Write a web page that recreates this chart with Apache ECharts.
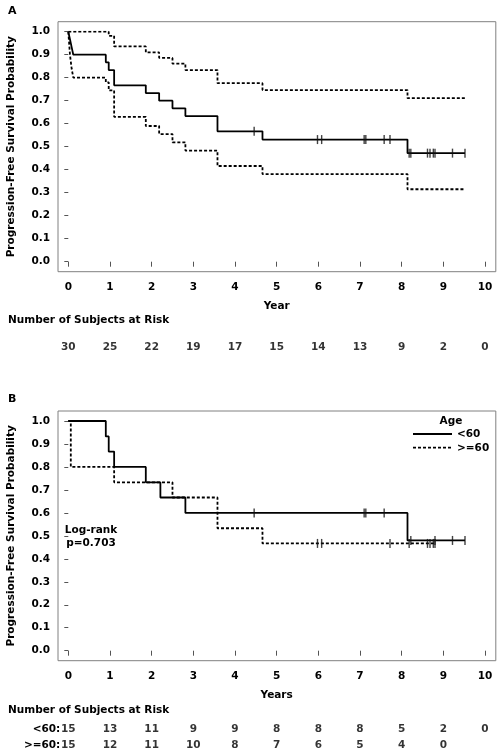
<!DOCTYPE html>
<html><head><meta charset="utf-8">
<script src="https://cdn.jsdelivr.net/npm/echarts@6/dist/echarts.min.js"></script>
<style>html,body{margin:0;padding:0;background:#fff}#c{width:503px;height:755px}</style>
</head><body><div id="c"></div>
<script>
// ---------- data ----------
const yearMin = 0, yearMax = 10, yearStep = 1;
const probMin = 0, probMax = 1, probStep = 0.1;

// Panel A: all subjects (KM + 95% CI)
const aTimes = [0, 0.04, 0.08, 0.12, 0.90, 0.97, 1.10, 1.86, 2.18, 2.50, 2.81, 3.58, 4.66, 8.14, 9.52];
const aSurv  = [1.0, 0.967, 0.933, 0.900, 0.867, 0.833, 0.767, 0.733, 0.700, 0.667, 0.633, 0.567, 0.531, 0.472, 0.472];
const aUpperTimes = [0, 0.97, 1.10, 1.86, 2.18, 2.50, 2.81, 3.58, 4.66, 8.14, 9.52];
const aUpper      = [1.0, 0.982, 0.936, 0.910, 0.886, 0.861, 0.833, 0.776, 0.746, 0.711, 0.711];
const aLowerTimes = [0, 0.04, 0.08, 0.12, 0.90, 0.97, 1.10, 1.86, 2.18, 2.50, 2.81, 3.58, 4.66, 8.14, 9.52];
const aLower      = [1.0, 0.90, 0.84, 0.80, 0.78, 0.745, 0.630, 0.590, 0.555, 0.519, 0.483, 0.416, 0.381, 0.315, 0.315];
const aCensor = [4.46, 5.98, 6.08, 7.10, 7.14, 7.58, 7.72, 8.18, 8.22, 8.62, 8.68, 8.76, 8.80, 9.22, 9.52];
const aRisk = [30, 25, 22, 19, 17, 15, 14, 13, 9, 2, 0];

// Panel B: by age group
const ageGroups = ['<60', '>=60'];
const bLtTimes = [0, 0.90, 0.97, 1.10, 1.86, 2.21, 2.81, 8.14, 9.52];
const bLtSurv  = [1.0, 0.933, 0.867, 0.800, 0.733, 0.667, 0.600, 0.480, 0.480];
const bLtCensor = [4.46, 7.10, 7.14, 7.58, 8.22, 8.80, 9.22, 9.52];
const bGeTimes = [0, 0.06, 1.10, 2.50, 3.58, 4.66, 8.80];
const bGeSurv  = [1.0, 0.800, 0.733, 0.667, 0.533, 0.467, 0.467];
const bGeCensor = [5.98, 6.08, 7.72, 8.18, 8.62, 8.68, 8.76, 8.80];
const bRiskLt = [15, 13, 11, 9, 9, 8, 8, 8, 5, 2, 0];
const bRiskGe = [15, 12, 11, 10, 8, 7, 6, 5, 4, 0];
const riskRowLabels = ['<60:', '>=60:'];
const logRankText = ['Log-rank', 'p=0.703'];

// ---------- helpers ----------
const FONT = 'DejaVu Sans';
const FS = 10.5;
const CSSFONT = 'bold ' + FS + 'px "DejaVu Sans"';
const pairs = (t, v) => t.map((x, i) => [x, v[i]]);
const stepVal = (t, v, x) => { let r = v[0]; for (let i = 0; i < t.length; i++) if (t[i] <= x) r = v[i]; return r; };
const censorPts = (c, t, v) => c.map(x => [x, stepVal(t, v, x)]);
const txt = {color: '#000', fontFamily: FONT, fontWeight: 'bold', fontSize: FS};

const dataL = 68.3, dataW = 416.7;
const A = {top: 31.7, h: 230}, B = {top: 421, h: 229.7};

function frameGrid(top, h) {
  return {left: 58, top: top - 10, width: dataW + 21.1, height: h + 20, show: true,
    borderColor: '#808080', borderWidth: 1, backgroundColor: 'transparent', outerBoundsMode: 'none'};
}
function dataGrid(top, h) { return {left: dataL, top: top, width: dataW, height: h, outerBoundsMode: 'none'}; }

function hiddenX(gi) { return {type: 'value', gridIndex: gi, min: yearMin, max: yearMax, show: false}; }
function hiddenY(gi) { return {type: 'value', gridIndex: gi, min: 0, max: 1, show: false}; }

function dataX(gi, name) {
  return {type: 'value', gridIndex: gi, min: yearMin, max: yearMax, interval: yearStep, offset: 10,
    name: name, nameLocation: 'middle', nameGap: 29,
    nameTextStyle: Object.assign({}, txt),
    axisLine: {show: false}, splitLine: {show: false},
    axisTick: {show: true, length: 5, lineStyle: {color: '#555', width: 1}},
    axisLabel: Object.assign({margin: 10, showMinLabel: true, showMaxLabel: true}, txt)};
}
function dataY(gi) {
  return {type: 'value', gridIndex: gi, min: probMin, max: probMax, interval: probStep, offset: 10.3,
    name: 'Progression-Free Survival Probability', nameLocation: 'middle', nameGap: 41,
    nameTextStyle: Object.assign({}, txt),
    axisLine: {show: false}, splitLine: {show: false},
    axisTick: {show: true, length: 4, lineStyle: {color: '#555', width: 1}},
    axisLabel: Object.assign({margin: 8, formatter: v => v.toFixed(1), showMinLabel: true, showMaxLabel: true}, txt)};
}

const solid = {color: '#000', width: 1.8, type: 'solid'};
const dashed = {color: '#000', width: 1.8, type: [3, 2]};
function kmLine(gi, t, v, ls, name) {
  return {type: 'line', name: name, xAxisIndex: gi, yAxisIndex: gi, step: 'end', symbol: 'none',
    data: pairs(t, v), lineStyle: ls, silent: true, z: 3};
}
function censor(gi, c, t, v) {
  return {type: 'scatter', xAxisIndex: gi, yAxisIndex: gi, symbol: 'rect', symbolSize: [1.4, 9],
    itemStyle: {color: '#111'}, data: censorPts(c, t, v), silent: true, z: 4};
}
function riskSeries(gi, counts, row) {
  return {type: 'scatter', xAxisIndex: gi, yAxisIndex: gi, symbolSize: 1,
    itemStyle: {color: 'transparent'}, silent: true,
    data: counts.map((n, i) => [i, row, n]),
    label: Object.assign({show: true, position: 'inside', formatter: p => String(p.value[2])}, txt)};
}

const option = {
  animation: false,
  backgroundColor: '#fff',
  grid: [
    frameGrid(A.top, A.h), dataGrid(A.top, A.h),
    {left: dataL, width: dataW, top: 340, height: 14, outerBoundsMode: 'none'},
    frameGrid(B.top, B.h), dataGrid(B.top, B.h),
    {left: dataL, width: dataW, top: 721.5, height: 31.4, outerBoundsMode: 'none'}
  ],
  xAxis: [
    hiddenX(0), dataX(1, 'Year'), hiddenX(2),
    hiddenX(3), dataX(4, 'Years'), hiddenX(5)
  ],
  yAxis: [
    hiddenY(0), dataY(1), {type: 'value', gridIndex: 2, min: -1, max: 1, show: false},
    hiddenY(3), dataY(4),
    {type: 'category', gridIndex: 5, data: riskRowLabels, inverse: true,
      axisLine: {show: false}, axisTick: {show: false}, splitLine: {show: false},
      axisLabel: Object.assign({margin: 8, align: 'right'}, txt)}
  ],
  series: [
    kmLine(1, aUpperTimes, aUpper, dashed, 'upper'),
    kmLine(1, aLowerTimes, aLower, dashed, 'lower'),
    kmLine(1, aTimes, aSurv, solid, 'all'),
    censor(1, aCensor, aTimes, aSurv),
    riskSeries(2, aRisk, 0),
    kmLine(4, bGeTimes, bGeSurv, dashed, ageGroups[1]),
    kmLine(4, bLtTimes, bLtSurv, solid, ageGroups[0]),
    censor(4, bGeCensor, bGeTimes, bGeSurv),
    censor(4, bLtCensor, bLtTimes, bLtSurv),
    riskSeries(5, bRiskLt, 0),
    riskSeries(5, bRiskGe, 1)
  ],
  graphic: [
    {type: 'text', x: 8, y: 11.5, style: {text: 'A', font: 'bold 11px "DejaVu Sans"', fill: '#000', verticalAlign: 'middle'}},
    {type: 'text', x: 8, y: 399.5, style: {text: 'B', font: 'bold 11px "DejaVu Sans"', fill: '#000', verticalAlign: 'middle'}},
    {type: 'text', x: 8, y: 320, style: {text: 'Number of Subjects at Risk', font: CSSFONT, fill: '#000', verticalAlign: 'middle'}},
    {type: 'text', x: 8, y: 710, style: {text: 'Number of Subjects at Risk', font: CSSFONT, fill: '#000', verticalAlign: 'middle'}},
    {type: 'text', x: 91, y: 530, style: {text: logRankText[0], font: CSSFONT, fill: '#000', align: 'center', verticalAlign: 'middle'}},
    {type: 'text', x: 91, y: 543.5, style: {text: logRankText[1], font: CSSFONT, fill: '#000', align: 'center', verticalAlign: 'middle'}},
    {type: 'text', x: 451, y: 421.7, style: {text: 'Age', font: CSSFONT, fill: '#000', align: 'center', verticalAlign: 'middle'}},
    {type: 'line', shape: {x1: 413, y1: 434, x2: 452, y2: 434}, style: {stroke: '#000', lineWidth: 1.8}},
    {type: 'text', x: 457, y: 434.5, style: {text: ageGroups[0], font: CSSFONT, fill: '#000', verticalAlign: 'middle'}},
    {type: 'line', shape: {x1: 413, y1: 447.7, x2: 452, y2: 447.7}, style: {stroke: '#000', lineWidth: 1.8, lineDash: [3, 2]}},
    {type: 'text', x: 457, y: 448, style: {text: ageGroups[1], font: CSSFONT, fill: '#000', verticalAlign: 'middle'}}
  ]
};

const chart = echarts.init(document.getElementById('c'), null, {renderer: 'canvas'});
chart.setOption(option);
</script>
</body></html>
